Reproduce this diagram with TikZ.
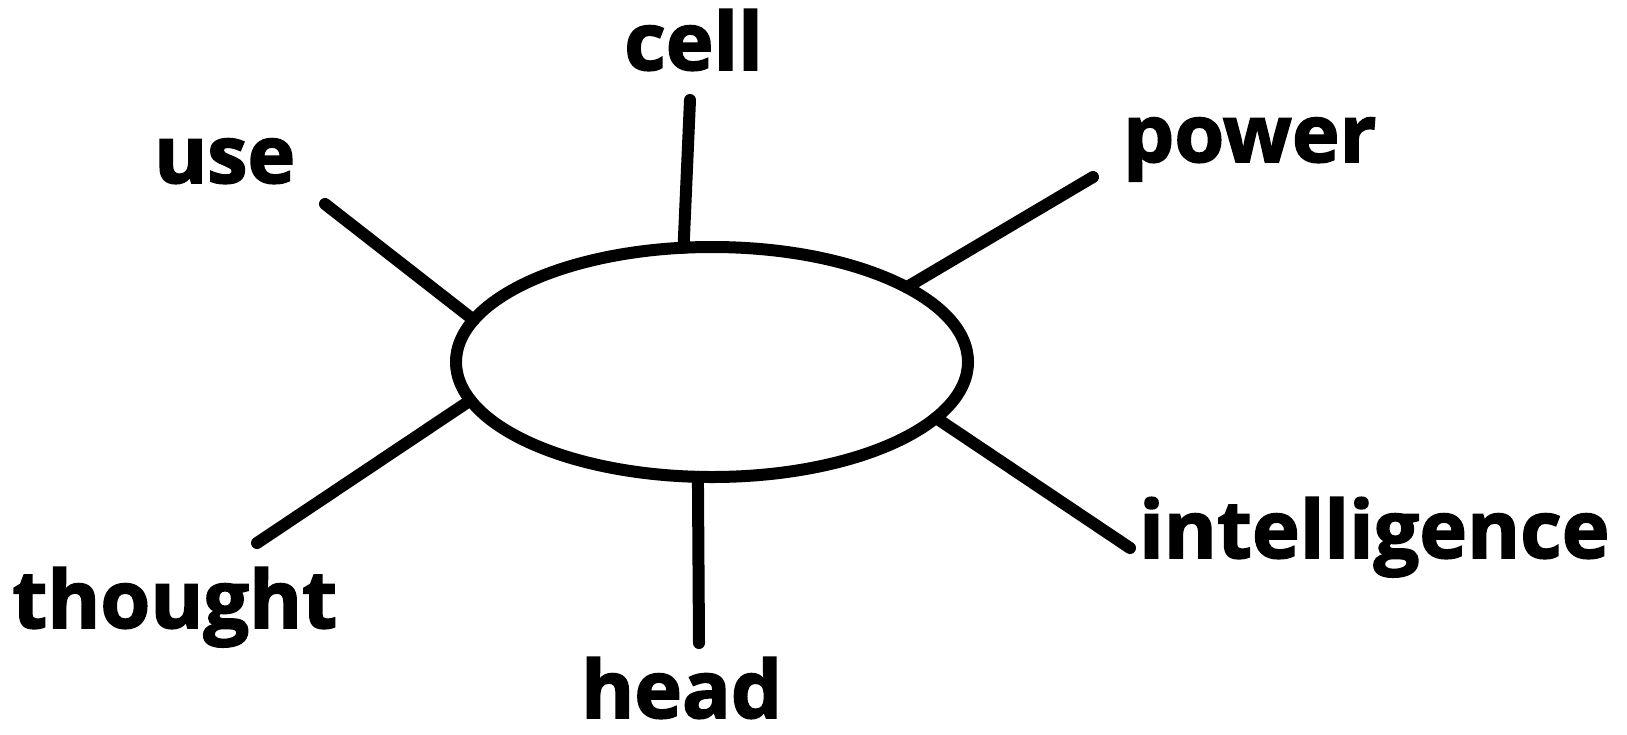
\documentclass[tikz,border=0pt]{standalone}
\usepackage{fontspec}
\newfontfamily\lblfont{Open Sans}[FakeStretch=1.01,FakeBold=2]
\usetikzlibrary{shapes.geometric}
\begin{document}
\begin{tikzpicture}[x=1pt,y=-1pt,
  stroke/.style={line width=12pt,line cap=round,black},
  word/.style={anchor=base west,inner sep=0pt,font=\lblfont\bfseries\fontsize{80}{90}\selectfont}]
\useasboundingbox[fill=white] (0,0) rectangle (1627,734);
\node[ellipse,draw,line width=12pt,outer sep=0pt,minimum width=512pt,minimum height=230pt] (c) at (712,362) {};
\node[word] (cell) at (624,70) {cell};
\node[word] (use) at (154,183) {use};
\node[word] (power) at (1123,162) {power};
\node[word] (thought) at (12,628) {thought};
\node[word] (head) at (581,718) {head};
\node[word] (intel) at (1139,558) {intelligence};
\coordinate (cellT) at (690,100);
\coordinate (useT) at (325,204);
\coordinate (powerT) at (1093,177);
\coordinate (thoughtT) at (257,543);
\coordinate (intelT) at (1130,548);
\coordinate (headT) at (699,643);
\draw[stroke] (cellT) -- (c.104);
\draw[stroke] (useT) -- (c.170.8);
\draw[stroke] (powerT) -- (c.21.5);
\draw[stroke] (thoughtT) -- (c.189.4);
\draw[stroke] (intelT) -- (c.346.4);
\draw[stroke] (headT) -- (c.263.3);
\end{tikzpicture}
\end{document}
